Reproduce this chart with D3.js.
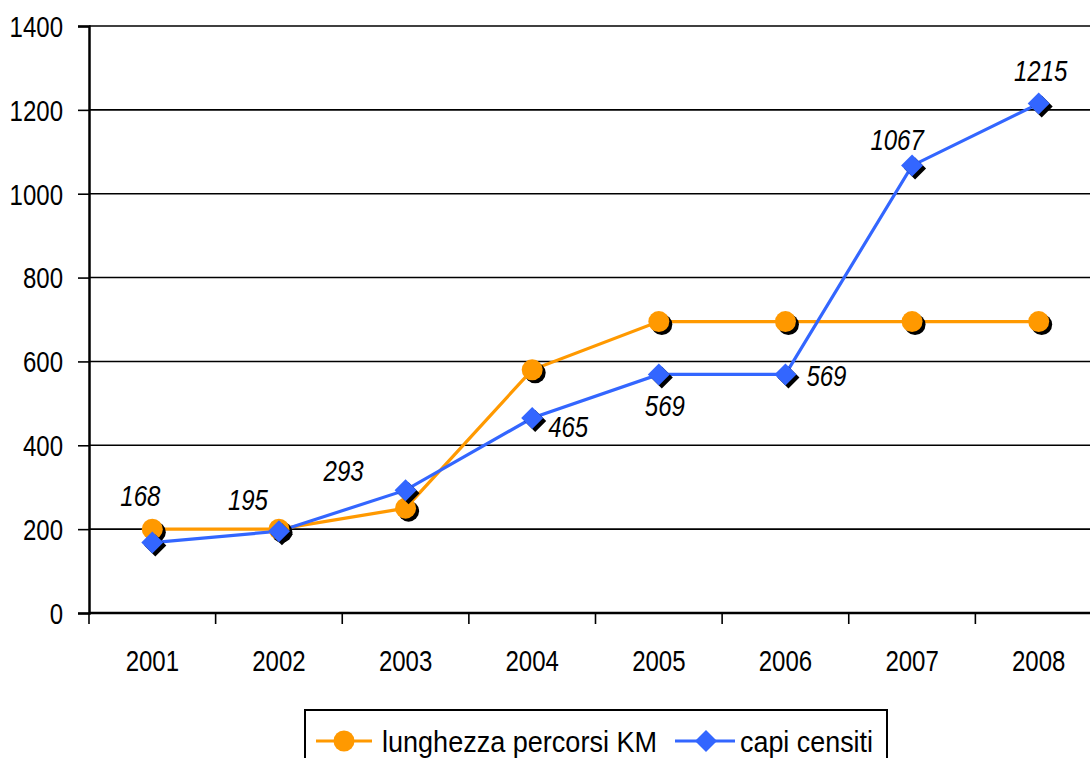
<!DOCTYPE html>
<html>
<head>
<meta charset="utf-8">
<script src="https://cdn.jsdelivr.net/npm/d3@7"></script>
<style>
  html, body { margin: 0; padding: 0; background: #fff; overflow: hidden; }
  svg { display: block; }
  text { font-family: "Liberation Sans", Arial, sans-serif; }
</style>
</head>
<body>
<svg id="chart" width="1090" height="758"></svg>
<script>
// Years on the x axis
const years = ["2001", "2002", "2003", "2004", "2005", "2006", "2007", "2008"];
// Length of the trails (km)
const lunghezza = [200, 200, 250, 580, 695, 695, 695, 695];
// Head count
const capi = [168, 195, 293, 465, 569, 569, 1067, 1215];
// Y axis ticks
const yTicks = [0, 200, 400, 600, 800, 1000, 1200, 1400];
// Series names
const seriesNames = ["lunghezza percorsi KM", "capi censiti"];

const orange = "#ff9900";
const blue = "#3366ff";
const FS = 30;        // font size
const SX = 0.8;       // horizontal condensing of the glyphs

const svg = d3.select("#chart");
const margin = { left: 89, top: 26 };
const plotW = 1013, plotH = 587;

const x = d3.scaleBand().domain(years).range([margin.left, margin.left + plotW]);
const y = d3.scaleLinear().domain([0, 1400]).range([margin.top + plotH, margin.top]);

const g = svg.append("g");

// condensed text helper; (px, py) is the anchor point, vertical centre of the digits
function label(parent, px, py, str, anchor, italic) {
  return parent.append("text")
    .attr("transform", `translate(${px},${py + FS * 0.36}) scale(${SX},1)`)
    .attr("text-anchor", anchor)
    .attr("font-size", FS)
    .attr("font-style", italic ? "italic" : "normal")
    .attr("fill", "#000")
    .text(str);
}

// horizontal gridlines
g.selectAll("line.grid").data(yTicks.filter(d => d > 0)).join("line")
  .attr("x1", margin.left).attr("x2", margin.left + plotW)
  .attr("y1", d => y(d)).attr("y2", d => y(d))
  .attr("stroke", "#000").attr("stroke-width", 1.6);

// y axis
const yAxis = g.append("g").attr("transform", `translate(${margin.left},0)`)
  .call(d3.axisLeft(y).tickValues(yTicks).tickSize(11).tickFormat(""));
yAxis.select(".domain").attr("stroke", "#000").attr("stroke-width", 2.5);
yAxis.selectAll(".tick line").attr("stroke", "#000").attr("stroke-width", 1.6);
yTicks.forEach(t => label(g, 63, y(t), String(t), "end", false));

// x axis with ticks at category boundaries
const xBase = y(0);
g.append("line").attr("x1", margin.left).attr("x2", margin.left + plotW)
  .attr("y1", xBase).attr("y2", xBase).attr("stroke", "#000").attr("stroke-width", 2.5);
const bounds = years.map(d => x(d)).concat([x(years[years.length - 1]) + x.bandwidth()]);
g.selectAll("line.xtick").data(bounds).join("line")
  .attr("x1", d => d).attr("x2", d => d)
  .attr("y1", xBase).attr("y2", xBase + 11)
  .attr("stroke", "#000").attr("stroke-width", 1.6);
const cx = d => x(d) + x.bandwidth() / 2;
years.forEach(yr => label(g, cx(yr), xBase + 47, yr, "middle", false));

const line = d3.line().x(d => cx(d.year)).y(d => y(d.v));
const orangeData = years.map((yr, i) => ({ year: yr, v: lunghezza[i] }));
const blueData = years.map((yr, i) => ({ year: yr, v: capi[i] }));

// series lines
g.append("path").datum(orangeData).attr("d", line)
  .attr("fill", "none").attr("stroke", orange).attr("stroke-width", 3.2);
g.append("path").datum(blueData).attr("d", line)
  .attr("fill", "none").attr("stroke", blue).attr("stroke-width", 3.2);

// markers with drop shadow
const circleR = 10.5;
const dSize = 11;
const diamond = s => `M0,${-s}L${s},0L0,${s}L${-s},0Z`;

orangeData.forEach(d => {
  g.append("circle").attr("cx", cx(d.year) + 3).attr("cy", y(d.v) + 3).attr("r", circleR).attr("fill", "#000");
  g.append("circle").attr("cx", cx(d.year)).attr("cy", y(d.v)).attr("r", circleR).attr("fill", orange);
});
blueData.forEach(d => {
  g.append("path").attr("d", diamond(dSize)).attr("transform", `translate(${cx(d.year) + 3},${y(d.v) + 3})`).attr("fill", "#000");
  g.append("path").attr("d", diamond(dSize)).attr("transform", `translate(${cx(d.year)},${y(d.v)})`).attr("fill", blue);
});

// value labels for the head count
const labelOffsets = [[-12, -47], [-31, -32], [-62, -20], [36, 8], [6, 31], [41, 1], [-15, -26], [2, -33]];
blueData.forEach((d, i) => {
  const [dx, dy] = labelOffsets[i];
  label(g, cx(d.year) + dx, y(d.v) + dy, String(d.v), "middle", true);
});

// legend
const lg = svg.append("g").attr("transform", "translate(305,710)");
lg.append("rect").attr("x", 0).attr("y", 0).attr("width", 582).attr("height", 70)
  .attr("fill", "#fff").attr("stroke", "#000").attr("stroke-width", 2);
const ly = 31;
lg.append("line").attr("x1", 11).attr("x2", 67).attr("y1", ly).attr("y2", ly).attr("stroke", orange).attr("stroke-width", 3.2);
lg.append("circle").attr("cx", 39).attr("cy", ly).attr("r", circleR).attr("fill", orange);
lg.append("text").attr("x", 77).attr("y", ly + 11).attr("font-size", FS).attr("fill", "#000")
  .attr("textLength", 275).attr("lengthAdjust", "spacingAndGlyphs").text(seriesNames[0]);
lg.append("line").attr("x1", 370).attr("x2", 430).attr("y1", ly).attr("y2", ly).attr("stroke", blue).attr("stroke-width", 3.2);
lg.append("path").attr("d", diamond(dSize)).attr("transform", `translate(401,${ly})`).attr("fill", blue);
lg.append("text").attr("x", 435).attr("y", ly + 11).attr("font-size", FS).attr("fill", "#000")
  .attr("textLength", 133).attr("lengthAdjust", "spacingAndGlyphs").text(seriesNames[1]);
</script>
</body>
</html>
